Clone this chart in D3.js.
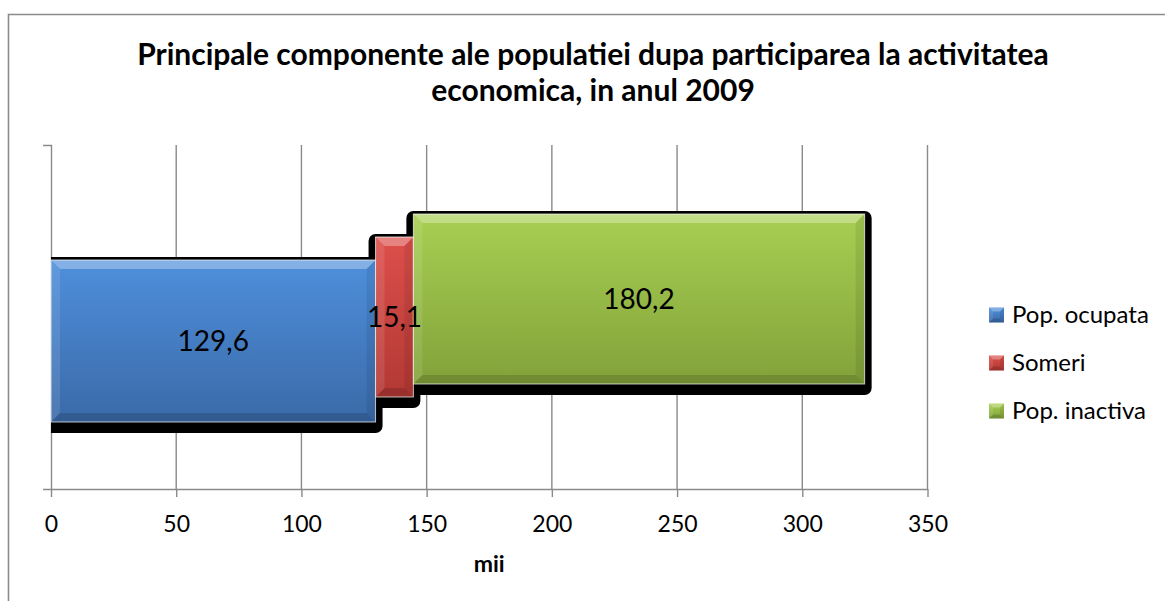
<!DOCTYPE html>
<html>
<head>
<meta charset="utf-8">
<script src="https://cdn.jsdelivr.net/npm/d3@7"></script>
<style>
  body { margin: 0; background: #fff; }
  text { font-family: Lato, "Open Sans", sans-serif; fill: #000; }
</style>
</head>
<body>
<svg id="chart"></svg>
<script>
/** * * * * DATA * * * * */
const categories = ['2009'];
const seriesNames = ['Pop. ocupata', 'Someri', 'Pop. inactiva'];
const seriesValues = [129.6, 15.1, 180.2];
const valueLabels = ['129,6', '15,1', '180,2'];
const xTicks = [0, 50, 100, 150, 200, 250, 300, 350];
const titleLines = ['Principale componente ale populatiei dupa participarea la activitatea',
  'economica, in anul 2009'];
const axisTitle = 'mii';

/** * * * * LAYOUT * * * * */
const width = 1165;
const height = 601;
const plot = { left: 51, right: 927.5, top: 145, bottom: 489 };
// each segment sits a bit higher than the previous one (excel 3d-ish look)
const segShift = [24, 0, -18];
const segHeight = [162, 160, 170];
const gridColor = '#8a8a8a';

const colors = [
  { top: '#4f8fdc', bottom: '#3a6aa8' },
  { top: '#dd4f4b', bottom: '#b23834' },
  { top: '#a8cf52', bottom: '#82a23a' }
];

const svg = d3.select('#chart')
  .attr('width', width)
  .attr('height', height);

svg.append('rect').attr('width', width).attr('height', height).attr('fill', '#fff');

// outer chart frame (runs off the right and bottom)
svg.append('path')
  .attr('d', `M8.5,${height} V14.5 H${width}`)
  .attr('fill', 'none')
  .attr('stroke', '#8c8c8c')
  .attr('stroke-width', 1.6);

const defs = svg.append('defs');
colors.forEach(function(c, i) {
  const g = defs.append('linearGradient')
    .attr('id', 'grad' + i)
    .attr('x1', 0).attr('y1', 0).attr('x2', 0).attr('y2', 1);
  g.append('stop').attr('offset', '0%').attr('stop-color', c.top);
  g.append('stop').attr('offset', '100%').attr('stop-color', c.bottom);
});
defs.append('clipPath').attr('id', 'plotClip')
  .append('rect')
  .attr('x', plot.left).attr('y', 0)
  .attr('width', width - plot.left).attr('height', height);
defs.append('filter').attr('id', 'soft')
  .append('feGaussianBlur').attr('stdDeviation', 0.7);

// scales
const xScale = d3.scaleLinear()
  .domain([0, 350])
  .range([plot.left, plot.right]);

const yScale = d3.scaleBand()
  .domain(categories)
  .range([plot.top, plot.bottom]);

// gridlines
svg.append('g')
  .selectAll('line')
  .data(xTicks.slice(1))
  .enter()
  .append('line')
  .attr('x1', d => xScale(d)).attr('x2', d => xScale(d))
  .attr('y1', plot.top).attr('y2', plot.bottom)
  .attr('stroke', gridColor)
  .attr('stroke-width', 1.4);

// x axis
const xAxis = svg.append('g')
  .attr('transform', `translate(0,${plot.bottom})`)
  .call(d3.axisBottom(xScale).tickValues(xTicks).tickSize(8).tickSizeOuter(0).tickFormat(d3.format('d')));
xAxis.select('.domain').attr('stroke', gridColor).attr('stroke-width', 1.4);
xAxis.selectAll('.tick line').attr('stroke', gridColor).attr('stroke-width', 1.4);
xAxis.selectAll('.tick text')
  .attr('y', 43)
  .attr('dy', 0)
  .style('font-family', 'Lato, sans-serif')
  .style('font-size', '23px');

// y axis (one category, ticks at the band edges only)
const yAxis = svg.append('g')
  .attr('transform', `translate(${plot.left},0)`)
  .call(d3.axisLeft(yScale).tickValues([]).tickSizeOuter(8));
yAxis.select('.domain').attr('stroke', gridColor).attr('stroke-width', 1.4).attr('fill', 'none');

// stacked segments
const stackRow = {};
seriesNames.forEach((s, i) => { stackRow[s] = seriesValues[i]; });
const stacked = d3.stack().keys(seriesNames)([stackRow]);

const segs = stacked.map(function(layer, i) {
  const cy = yScale(categories[0]) + yScale.bandwidth() / 2 + segShift[i];
  return {
    i: i,
    x0: xScale(layer[0][0]),
    x1: xScale(layer[0][1]),
    y0: cy - segHeight[i] / 2,
    y1: cy + segHeight[i] / 2,
    cy: cy
  };
});

// shadows first, all of them
svg.append('g')
  .attr('clip-path', 'url(#plotClip)')
  .selectAll('rect')
  .data(segs)
  .enter()
  .append('rect')
  .attr('x', d => d.x0 - 7)
  .attr('y', d => d.y0 - 3)
  .attr('width', d => d.x1 - d.x0 + 14)
  .attr('height', d => d.y1 - d.y0 + 14)
  .attr('rx', 7)
  .attr('fill', '#000')
  .attr('filter', 'url(#soft)');

function bevel(g, x0, y0, x1, y1, b) {
  const poly = [
    { p: [[x0, y0], [x1, y0], [x1 - b, y0 + b], [x0 + b, y0 + b]], f: '#fff', o: 0.3 },
    { p: [[x0, y0], [x0 + b, y0 + b], [x0 + b, y1 - b], [x0, y1]], f: '#fff', o: 0.1 },
    { p: [[x1, y0], [x1 - b, y0 + b], [x1 - b, y1 - b], [x1, y1]], f: '#000', o: 0.08 },
    { p: [[x0, y1], [x1, y1], [x1 - b, y1 - b], [x0 + b, y1 - b]], f: '#000', o: 0.14 }
  ];
  poly.forEach(function(q) {
    g.append('polygon')
      .attr('points', q.p.map(pt => pt.join(',')).join(' '))
      .attr('fill', q.f)
      .attr('fill-opacity', q.o);
  });
}

const bars = svg.append('g');
segs.forEach(function(d) {
  const g = bars.append('g');
  g.append('rect')
    .attr('x', d.x0).attr('y', d.y0)
    .attr('width', d.x1 - d.x0).attr('height', d.y1 - d.y0)
    .attr('fill', `url(#grad${d.i})`);
  bevel(g, d.x0, d.y0, d.x1, d.y1, 9);
  g.append('rect')
    .attr('x', d.x0).attr('y', d.y0)
    .attr('width', d.x1 - d.x0).attr('height', d.y1 - d.y0)
    .attr('fill', 'none')
    .attr('stroke', '#fff')
    .attr('stroke-opacity', 0.7)
    .attr('stroke-width', 1);
});

// value labels
svg.append('g')
  .selectAll('text')
  .data(segs)
  .enter()
  .append('text')
  .attr('x', d => (d.x0 + d.x1) / 2)
  .attr('y', d => d.cy)
  .attr('dy', '0.35em')
  .attr('text-anchor', 'middle')
  .style('font-size', '28px')
  .text(d => valueLabels[d.i]);

// title
svg.append('g')
  .selectAll('text')
  .data(titleLines)
  .enter()
  .append('text')
  .attr('x', 593)
  .attr('y', (d, i) => 65 + i * 36)
  .attr('text-anchor', 'middle')
  .style('font-size', '30px')
  .style('font-weight', 'bold')
  .text(d => d);

// axis title
svg.append('text')
  .attr('x', (plot.left + plot.right) / 2)
  .attr('y', 572)
  .attr('text-anchor', 'middle')
  .style('font-size', '23px')
  .style('font-weight', 'bold')
  .text(axisTitle);

// legend
const legend = svg.append('g')
  .attr('transform', 'translate(989,315)');
seriesNames.forEach(function(name, i) {
  const row = legend.append('g').attr('transform', `translate(0,${i * 48})`);
  row.append('rect')
    .attr('x', 0).attr('y', -7.5)
    .attr('width', 15).attr('height', 15)
    .attr('fill', `url(#grad${i})`);
  bevel(row, 0, -7.5, 15, 7.5, 4);
  row.append('text')
    .attr('x', 23)
    .attr('y', 0)
    .attr('dy', '0.35em')
    .style('font-size', '24px')
    .text(name);
});
</script>
</body>
</html>
